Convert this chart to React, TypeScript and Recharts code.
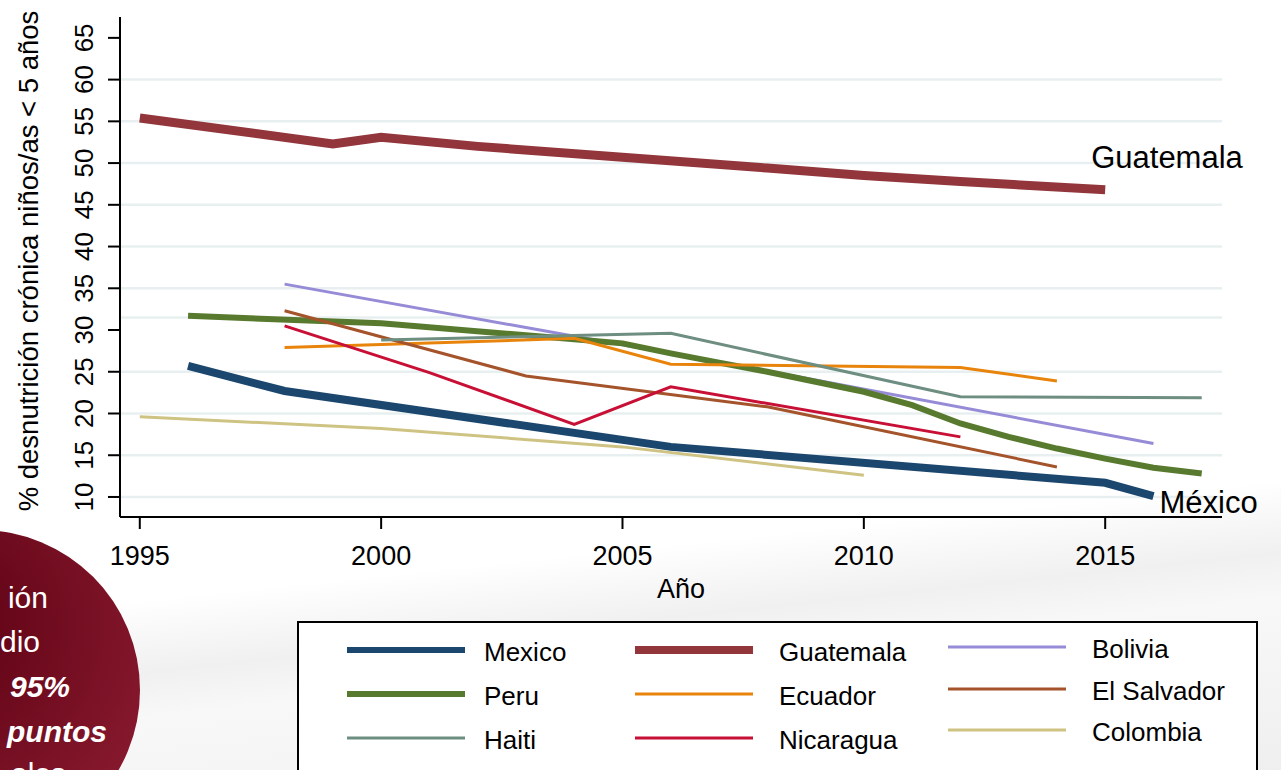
import { LineChart, Line, XAxis, YAxis, CartesianGrid, LabelList } from "recharts";

type Point = [number, number];

// % de desnutrición crónica en menores de 5 años, por año de encuesta
const MEXICO: Point[] = [[1996, 25.7], [1998, 22.7], [2006, 16.0], [2015, 11.7], [2016, 10.1]];
const GUATEMALA: Point[] = [
  [1995, 55.4], [1999, 52.3], [2000, 53.1], [2002, 52.0], [2005, 50.7],
  [2008, 49.4], [2010, 48.5], [2012, 47.8], [2015, 46.8],
];
const BOLIVIA: Point[] = [[1998, 35.5], [2003, 30.3], [2008, 25.1], [2016, 16.4]];
const PERU: Point[] = [
  [1996, 31.7], [2000, 30.8], [2004, 28.9], [2005, 28.4], [2006, 27.2], [2007, 26.1],
  [2008, 25.0], [2009, 23.8], [2010, 22.6], [2011, 21.0], [2012, 18.8], [2013, 17.2],
  [2014, 15.8], [2015, 14.6], [2016, 13.5], [2017, 12.8],
];
const ECUADOR: Point[] = [[1998, 27.9], [2004, 29.0], [2006, 25.9], [2012, 25.5], [2014, 23.9]];
const EL_SALVADOR: Point[] = [[1998, 32.3], [2003, 24.5], [2008, 20.8], [2014, 13.6]];
const HAITI: Point[] = [[2000, 28.8], [2006, 29.6], [2012, 22.0], [2017, 21.9]];
const NICARAGUA: Point[] = [[1998, 30.5], [2001, 24.9], [2004, 18.7], [2006, 23.2], [2012, 17.2]];
const COLOMBIA: Point[] = [[1995, 19.6], [2000, 18.2], [2005, 16.0], [2010, 12.6]];

const YEAR_TICKS = [1995, 2000, 2005, 2010, 2015];
const PCT_TICKS = [10, 15, 20, 25, 30, 35, 40, 45, 50, 55, 60, 65];
const GRID_VALUES = [10, 15, 20, 25, 31.5, 35, 40, 45, 50, 55, 60];

const FONT = "'Liberation Sans', Arial, Helvetica, sans-serif";

interface Series {
  name: string;
  points: Point[];
  color: string;
  width: number;
  keyWidth: number;
}

// legend order (row by row, three per row)
const SERIES: Series[] = [
  { name: "Mexico", points: MEXICO, color: "#1b466e", width: 8, keyWidth: 6 },
  { name: "Guatemala", points: GUATEMALA, color: "#92363c", width: 9, keyWidth: 8 },
  { name: "Bolivia", points: BOLIVIA, color: "#968bd6", width: 3, keyWidth: 3 },
  { name: "Peru", points: PERU, color: "#587a2f", width: 6, keyWidth: 6 },
  { name: "Ecuador", points: ECUADOR, color: "#e8840c", width: 3, keyWidth: 3 },
  { name: "El Salvador", points: EL_SALVADOR, color: "#a4532b", width: 3, keyWidth: 3 },
  { name: "Haiti", points: HAITI, color: "#6d8e80", width: 3, keyWidth: 3 },
  { name: "Nicaragua", points: NICARAGUA, color: "#c80f35", width: 3, keyWidth: 3 },
  { name: "Colombia", points: COLOMBIA, color: "#cfc383", width: 3, keyWidth: 3 },
];

// text at the last point of a series
const endLabel = (text: string, count: number, dx: number, dy: number) => (props: any) => {
  if (props.index !== count - 1) return null;
  return (
    <text x={props.x + dx} y={props.y + dy} fontSize={31} fontFamily={FONT} fill="#000">
      {text}
    </text>
  );
};

// plot box: x 120..1222, y 17..517
const PLOT_BOTTOM = 517;
const PLOT_LEFT = 120;

const XTick = (props: any) => (
  <text x={props.x} y={PLOT_BOTTOM + 48} textAnchor="middle" fontSize={27} fontFamily={FONT} fill="#000">
    {props.payload.value}
  </text>
);

const YTick = (props: any) => {
  const x = PLOT_LEFT - 27;
  return (
    <text
      x={x}
      y={props.y}
      transform={`rotate(-90, ${x}, ${props.y})`}
      textAnchor="middle"
      fontSize={26}
      fontFamily={FONT}
      fill="#000"
    >
      {props.payload.value}
    </text>
  );
};

const yTitle = (props: any) => {
  const vb = props.viewBox;
  const x = 38;
  const y = vb.y + vb.height / 2 - 6;
  return (
    <text x={x} y={y} transform={`rotate(-90, ${x}, ${y})`} textAnchor="middle" fontSize={27.5} fontFamily={FONT} fill="#000">
      % desnutrición crónica niños/as &lt; 5 años
    </text>
  );
};

const xTitle = (props: any) => {
  const vb = props.viewBox;
  return (
    <text x={vb.x + vb.width / 2 + 10} y={PLOT_BOTTOM + 81} textAnchor="middle" fontSize={27} fontFamily={FONT} fill="#000">
      Año
    </text>
  );
};

const KEY_LINE_X = [347, 635, 948];
const KEY_TEXT_X = [484, 779, 1092];
const KEY_ROWS = [
  [650, 694, 738],
  [650, 694, 738],
  [647, 689, 730],
];

function Legend() {
  return (
    <svg width={1281} height={770} style={{ position: "absolute", left: 0, top: 0 }}>
      <rect x={298} y={622} width={959} height={170} fill="#fff" stroke="#000" strokeWidth={2} />
      {SERIES.map((s, i) => {
        const col = i % 3;
        const row = Math.floor(i / 3);
        const y = KEY_ROWS[col][row];
        return (
          <g key={s.name}>
            <line x1={KEY_LINE_X[col]} x2={KEY_LINE_X[col] + 118} y1={y} y2={y} stroke={s.color} strokeWidth={s.keyWidth} />
            <text x={KEY_TEXT_X[col]} y={y + 2} dominantBaseline="central" fontSize={26} fontFamily={FONT} fill="#000">
              {s.name}
            </text>
          </g>
        );
      })}
    </svg>
  );
}

function Badge() {
  return (
    <svg width={200} height={770} style={{ position: "absolute", left: 0, top: 0 }}>
      <defs>
        <radialGradient id="badgeFill" cx="0.35" cy="0.3" r="0.8">
          <stop offset="0%" stopColor="#5a0010" />
          <stop offset="100%" stopColor="#8a1a30" />
        </radialGradient>
      </defs>
      <circle cx={-20} cy={690} r={160} fill="url(#badgeFill)" />
      <g fill="#fff" fontFamily={FONT} fontSize={30} textAnchor="end">
        <text x={48} y={608}>ión</text>
        <text x={40} y={652}>dio</text>
        <text x={70} y={697} fontWeight="bold" fontStyle="italic">95%</text>
        <text x={107} y={742} fontWeight="bold" fontStyle="italic">puntos</text>
        <text x={66} y={784}>ales</text>
      </g>
    </svg>
  );
}

export default function App() {
  return (
    <div
      style={{
        position: "absolute",
        left: 0,
        top: 0,
        width: 1281,
        height: 770,
        overflow: "hidden",
        background: "linear-gradient(174deg, #ffffff 0%, #ffffff 68%, #f0f0f0 76%, #f8f8f8 81%, #efefef 100%)",
      }}
    >
      <div style={{ position: "absolute", left: 0, top: 0 }}>
        <LineChart width={1281} height={770} margin={{ top: 17, right: 59, bottom: 193, left: 60 }}>
          <CartesianGrid vertical={false} horizontalValues={GRID_VALUES} stroke="#e8eff1" strokeWidth={2.5} />
          <XAxis
            type="number"
            dataKey="year"
            domain={[1994.59, 2017.42]}
            ticks={YEAR_TICKS}
            allowDataOverflow
            height={60}
            axisLine={{ stroke: "#000", strokeWidth: 2 }}
            tickLine={{ stroke: "#000", strokeWidth: 2 }}
            tickSize={12}
            tick={<XTick />}
            label={xTitle}
          />
          <YAxis
            type="number"
            domain={[7.6, 67.5]}
            ticks={PCT_TICKS}
            allowDataOverflow
            width={60}
            axisLine={{ stroke: "#000", strokeWidth: 2 }}
            tickLine={{ stroke: "#000", strokeWidth: 2 }}
            tickSize={12}
            tick={<YTick />}
            label={yTitle}
          />
          {SERIES.map((s) => (
            <Line
              key={s.name}
              name={s.name}
              data={s.points.map(([year, value]) => ({ year, value }))}
              dataKey="value"
              type="linear"
              stroke={s.color}
              strokeWidth={s.width}
              dot={false}
              activeDot={false}
              isAnimationActive={false}
            >
              {s.name === "Guatemala" && (
                <LabelList dataKey="value" content={endLabel("Guatemala", s.points.length, -14, -22)} />
              )}
              {s.name === "Mexico" && (
                <LabelList dataKey="value" content={endLabel("México", s.points.length, 6, 17)} />
              )}
            </Line>
          ))}
        </LineChart>
      </div>
      <Badge />
      <Legend />
    </div>
  );
}
